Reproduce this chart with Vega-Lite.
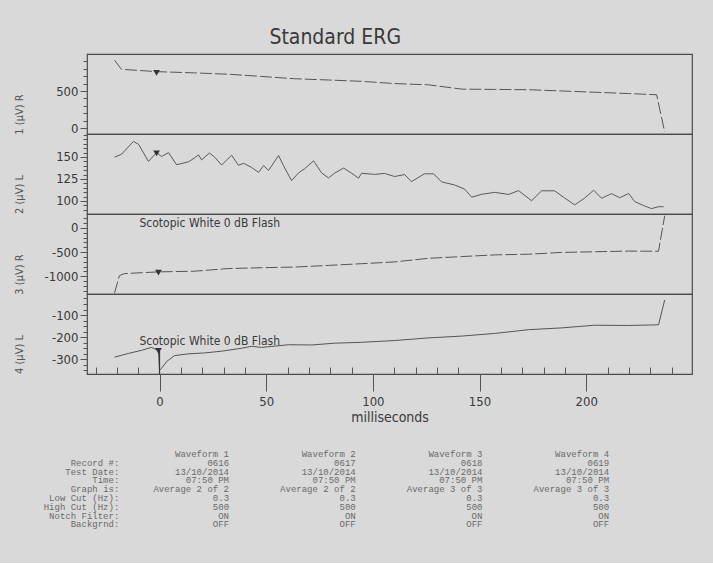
{
  "$schema": "https://vega.github.io/schema/vega-lite/v6.json",
  "background": "#d9d9d9",
  "padding": {"left": 12, "top": 27, "right": 20, "bottom": 19},
  "title": {"text": "Standard ERG", "fontSize": 21, "font": "'DejaVu Sans Condensed', 'Liberation Sans', sans-serif", "fontWeight": "normal", "color": "#3a3a3a", "anchor": "start", "dx": 257, "offset": 5},
  "config": {
    "view": {"stroke": "#4a4a4a", "strokeWidth": 1.2},
    "axis": {"domain": false, "grid": false, "labelOverlap": false, "tickColor": "#555", "labelColor": "#3a3a3a", "labelFont": "'DejaVu Sans Condensed', 'Liberation Sans', sans-serif", "labelFontSize": 13, "titleFont": "'DejaVu Sans Condensed', 'Liberation Sans', sans-serif", "titleFontSize": 11, "titleFontWeight": "normal", "titleColor": "#555"},
    "axisY": {"labelPadding": 2, "titleX": -68, "titleY": 60, "titleAlign": "center", "titleBaseline": "middle", "titleAngle": 270}
  },
  "spacing": 0,
  "bounds": "flush",
  "resolve": {"scale": {"x": "independent", "y": "independent"}},
  "datasets": {
    "trace": [
      {"p":1,"t":-21.1,"v":916},{"p":1,"t":-17.8,"v":793},{"p":1,"t":-1.4,"v":762},{"p":1,"t":16.4,"v":745},{"p":1,"t":32.3,"v":727},{"p":1,"t":47.8,"v":697},{"p":1,"t":63.3,"v":666},{"p":1,"t":79.2,"v":649},{"p":1,"t":94.7,"v":631},{"p":1,"t":110.2,"v":601},{"p":1,"t":126.1,"v":584},{"p":1,"t":141.6,"v":526},{"p":1,"t":157.1,"v":522},{"p":1,"t":173.0,"v":518},{"p":1,"t":188.5,"v":501},{"p":1,"t":203.9,"v":484},{"p":1,"t":219.9,"v":466},{"p":1,"t":233.0,"v":450},{"p":1,"t":236.8,"v":-51},
      {"p":2,"t":-21.1,"v":149.8},{"p":2,"t":-17.8,"v":153.1},{"p":2,"t":-12.2,"v":167.7},{"p":2,"t":-9.8,"v":164.3},{"p":2,"t":-5.2,"v":144.9},{"p":2,"t":-1.4,"v":155.0},{"p":2,"t":0.9,"v":150.5},{"p":2,"t":4.2,"v":154.9},{"p":2,"t":8.0,"v":141.2},{"p":2,"t":13.6,"v":144.5},{"p":2,"t":16.4,"v":149.0},{"p":2,"t":18.3,"v":152.4},{"p":2,"t":19.7,"v":146.7},{"p":2,"t":23.4,"v":154.5},{"p":2,"t":25.8,"v":149.9},{"p":2,"t":29.1,"v":140.8},{"p":2,"t":31.4,"v":146.4},{"p":2,"t":33.8,"v":152.0},{"p":2,"t":37.0,"v":140.6},{"p":2,"t":39.4,"v":142.8},{"p":2,"t":43.1,"v":138.2},{"p":2,"t":46.4,"v":132.5},{"p":2,"t":48.8,"v":140.3},{"p":2,"t":51.1,"v":134.7},{"p":2,"t":55.8,"v":151.6},{"p":2,"t":58.1,"v":140.2},{"p":2,"t":61.9,"v":123.1},{"p":2,"t":65.2,"v":132.0},{"p":2,"t":68.0,"v":136.6},{"p":2,"t":72.2,"v":145.6},{"p":2,"t":76.0,"v":131.9},{"p":2,"t":79.2,"v":126.1},{"p":2,"t":82.1,"v":131.7},{"p":2,"t":86.3,"v":137.4},{"p":2,"t":90.0,"v":131.6},{"p":2,"t":93.3,"v":125.9},{"p":2,"t":94.7,"v":131.5},{"p":2,"t":100.8,"v":130.2},{"p":2,"t":105.5,"v":131.3},{"p":2,"t":110.2,"v":127.8},{"p":2,"t":114.9,"v":130.0},{"p":2,"t":118.1,"v":121.9},{"p":2,"t":124.2,"v":130.9},{"p":2,"t":128.5,"v":130.8},{"p":2,"t":132.2,"v":121.7},{"p":2,"t":138.3,"v":118.2},{"p":2,"t":143.0,"v":113.5},{"p":2,"t":146.3,"v":104.3},{"p":2,"t":151.0,"v":107.6},{"p":2,"t":157.1,"v":109.8},{"p":2,"t":163.6,"v":107.4},{"p":2,"t":168.3,"v":111.8},{"p":2,"t":174.4,"v":100.3},{"p":2,"t":179.1,"v":111.6},{"p":2,"t":185.2,"v":111.5},{"p":2,"t":189.9,"v":103.4},{"p":2,"t":194.6,"v":95.5},{"p":2,"t":199.3,"v":103.3},{"p":2,"t":203.5,"v":112.3},{"p":2,"t":207.2,"v":103.1},{"p":2,"t":211.9,"v":108.3},{"p":2,"t":215.7,"v":103.7},{"p":2,"t":219.9,"v":108.5},{"p":2,"t":222.7,"v":99.4},{"p":2,"t":226.9,"v":94.8},{"p":2,"t":230.6,"v":91.3},{"p":2,"t":233.9,"v":93.5},{"p":2,"t":236.3,"v":93.4},
      {"p":3,"t":-21.1,"v":-1349},{"p":3,"t":-18.8,"v":-986},{"p":3,"t":-16.4,"v":-945},{"p":3,"t":-8.4,"v":-927},{"p":3,"t":-0.5,"v":-910},{"p":3,"t":16.4,"v":-896},{"p":3,"t":32.3,"v":-841},{"p":3,"t":47.8,"v":-824},{"p":3,"t":63.3,"v":-810},{"p":3,"t":79.2,"v":-776},{"p":3,"t":94.7,"v":-741},{"p":3,"t":110.2,"v":-704},{"p":3,"t":126.1,"v":-629},{"p":3,"t":141.6,"v":-594},{"p":3,"t":157.1,"v":-559},{"p":3,"t":173.0,"v":-545},{"p":3,"t":188.5,"v":-508},{"p":3,"t":203.9,"v":-494},{"p":3,"t":219.9,"v":-480},{"p":3,"t":233.9,"v":-484},{"p":3,"t":236.8,"v":250},
      {"p":4,"t":-21.1,"v":-290},{"p":4,"t":-14.5,"v":-273},{"p":4,"t":-8.4,"v":-259},{"p":4,"t":-3.8,"v":-246},{"p":4,"t":-0.5,"v":-260},{"p":4,"t":0.0,"v":-350},{"p":4,"t":0.9,"v":-341},{"p":4,"t":3.3,"v":-310},{"p":4,"t":7.0,"v":-283},{"p":4,"t":13.6,"v":-275},{"p":4,"t":21.1,"v":-271},{"p":4,"t":29.1,"v":-263},{"p":4,"t":38.4,"v":-250},{"p":4,"t":43.1,"v":-241},{"p":4,"t":47.8,"v":-246},{"p":4,"t":60.5,"v":-234},{"p":4,"t":71.3,"v":-235},{"p":4,"t":82.1,"v":-227},{"p":4,"t":94.7,"v":-223},{"p":4,"t":110.2,"v":-215},{"p":4,"t":126.1,"v":-203},{"p":4,"t":141.6,"v":-195},{"p":4,"t":157.1,"v":-183},{"p":4,"t":173.0,"v":-166},{"p":4,"t":188.5,"v":-158},{"p":4,"t":203.9,"v":-146},{"p":4,"t":219.9,"v":-147},{"p":4,"t":233.9,"v":-144},{"p":4,"t":236.8,"v":-32}
    ],
    "markers": [
      {"p":1,"t":-1.4,"v":745},{"p":2,"t":-1.4,"v":154},{"p":3,"t":-0.5,"v":-925},{"p":4,"t":-0.5,"v":-262}
    ],
    "stim": [{"p":4,"t":0,"v":-262,"v2":-366}],
    "notes": [
      {"p":3,"t":-9.4,"v":102,"text":"Scotopic  White 0 dB Flash"},
      {"p":4,"t":-9.4,"v":-217,"text":"Scotopic  White 0 dB Flash"}
    ],
    "table": [
      {"col":0,"row":1,"text":"Record #:"},{"col":0,"row":2,"text":"Test Date:"},{"col":0,"row":3,"text":"Time:"},{"col":0,"row":4,"text":"Graph is:"},{"col":0,"row":5,"text":"Low Cut (Hz):"},{"col":0,"row":6,"text":"High Cut (Hz):"},{"col":0,"row":7,"text":"Notch Filter:"},{"col":0,"row":8,"text":"Backgrnd:"},
      {"col":1,"row":0,"text":"Waveform  1"},{"col":1,"row":1,"text":"0616"},{"col":1,"row":2,"text":"13/10/2014"},{"col":1,"row":3,"text":"07:50 PM"},{"col":1,"row":4,"text":"Average 2 of 2"},{"col":1,"row":5,"text":"0.3"},{"col":1,"row":6,"text":"500"},{"col":1,"row":7,"text":"ON"},{"col":1,"row":8,"text":"OFF"},
      {"col":2,"row":0,"text":"Waveform  2"},{"col":2,"row":1,"text":"0617"},{"col":2,"row":2,"text":"13/10/2014"},{"col":2,"row":3,"text":"07:50 PM"},{"col":2,"row":4,"text":"Average 2 of 2"},{"col":2,"row":5,"text":"0.3"},{"col":2,"row":6,"text":"500"},{"col":2,"row":7,"text":"ON"},{"col":2,"row":8,"text":"OFF"},
      {"col":3,"row":0,"text":"Waveform  3"},{"col":3,"row":1,"text":"0618"},{"col":3,"row":2,"text":"13/10/2014"},{"col":3,"row":3,"text":"07:50 PM"},{"col":3,"row":4,"text":"Average 3 of 3"},{"col":3,"row":5,"text":"0.3"},{"col":3,"row":6,"text":"500"},{"col":3,"row":7,"text":"ON"},{"col":3,"row":8,"text":"OFF"},
      {"col":4,"row":0,"text":"Waveform  4"},{"col":4,"row":1,"text":"0619"},{"col":4,"row":2,"text":"13/10/2014"},{"col":4,"row":3,"text":"07:50 PM"},{"col":4,"row":4,"text":"Average 3 of 3"},{"col":4,"row":5,"text":"0.3"},{"col":4,"row":6,"text":"500"},{"col":4,"row":7,"text":"ON"},{"col":4,"row":8,"text":"OFF"}
    ]
  },
  "vconcat": [
    {
      "width": 605, "height": 80,
      "encoding": {
        "x": {"field": "t", "type": "quantitative", "scale": {"domain": [-34, 249.6], "nice": false, "zero": false}, "axis": null},
        "y": {"field": "v", "type": "quantitative", "scale": {"domain": [-80, 1000], "nice": false, "zero": false},
              "axis": {"title": "1 (µV) R", "labelOverlap": false, "values": [0,100,200,300,400,500,600,700,800,900], "labelExpr": "datum.value % 500 === 0 ? '' + datum.value : ''", "tickSize": {"condition": {"test": "datum.value % 500 === 0", "value": 7}, "value": 4}}}
      },
      "layer": [
        {"data": {"name": "trace"}, "transform": [{"filter": "datum.p === 1"}],
         "mark": {"type": "line", "color": "#555", "strokeWidth": 1, "strokeDash": [12, 3]}},
        {"data": {"name": "markers"}, "transform": [{"filter": "datum.p === 1"}],
         "mark": {"type": "point", "shape": "triangle-down", "filled": true, "color": "#333", "size": 45, "opacity": 1}}
      ]
    },
    {
      "width": 605, "height": 80,
      "encoding": {
        "x": {"field": "t", "type": "quantitative", "scale": {"domain": [-34, 249.6], "nice": false, "zero": false}, "axis": null},
        "y": {"field": "v", "type": "quantitative", "scale": {"domain": [85.2, 176.1], "nice": false, "zero": false},
              "axis": {"title": "2 (µV) L", "labelOverlap": false, "values": [90,95,100,105,110,115,120,125,130,135,140,145,150,155,160,165,170,175], "labelExpr": "indexof([100,125,150], datum.value) >= 0 ? '' + datum.value : ''", "tickSize": {"condition": {"test": "indexof([100,125,150], datum.value) >= 0", "value": 7}, "value": 4}}}
      },
      "layer": [
        {"data": {"name": "trace"}, "transform": [{"filter": "datum.p === 2"}],
         "mark": {"type": "line", "color": "#5a5a5a", "strokeWidth": 1}},
        {"data": {"name": "markers"}, "transform": [{"filter": "datum.p === 2"}],
         "mark": {"type": "point", "shape": "triangle-down", "filled": true, "color": "#333", "size": 45, "opacity": 1}}
      ]
    },
    {
      "width": 605, "height": 80,
      "encoding": {
        "x": {"field": "t", "type": "quantitative", "scale": {"domain": [-34, 249.6], "nice": false, "zero": false}, "axis": null},
        "y": {"field": "v", "type": "quantitative", "scale": {"domain": [-1367, 286], "nice": false, "zero": false},
              "axis": {"title": "3 (µV) R", "labelOverlap": false, "values": [-1300,-1200,-1100,-1000,-900,-800,-700,-600,-500,-400,-300,-200,-100,0,100,200], "labelExpr": "datum.value % 500 === 0 ? '' + datum.value : ''", "tickSize": {"condition": {"test": "datum.value % 500 === 0", "value": 7}, "value": 4}}}
      },
      "layer": [
        {"data": {"name": "trace"}, "transform": [{"filter": "datum.p === 3"}],
         "mark": {"type": "line", "color": "#555", "strokeWidth": 1, "strokeDash": [12, 3]}},
        {"data": {"name": "markers"}, "transform": [{"filter": "datum.p === 3"}],
         "mark": {"type": "point", "shape": "triangle-down", "filled": true, "color": "#333", "size": 45, "opacity": 1}},
        {"data": {"name": "notes"}, "transform": [{"filter": "datum.p === 3"}],
         "mark": {"type": "text", "align": "left", "baseline": "middle", "fontSize": 12, "font": "'DejaVu Sans Condensed', 'Liberation Sans', sans-serif", "color": "#3a3a3a"},
         "encoding": {"text": {"field": "text"}}}
      ]
    },
    {
      "width": 605, "height": 80,
      "encoding": {
        "x": {"field": "t", "type": "quantitative", "scale": {"domain": [-34, 249.6], "nice": false, "zero": false},
              "axis": {"title": "milliseconds", "labelOverlap": false, "labelFlush": false, "titleFontSize": 14, "titleColor": "#3a3a3a", "titlePadding": 2, "labelPadding": 4, "values": [-30,-20,-10,0,10,20,30,40,50,60,70,80,90,100,110,120,130,140,150,160,170,180,190,200,210,220,230,240], "labelExpr": "datum.value % 50 === 0 ? '' + datum.value : ''", "tickSize": {"condition": {"test": "datum.value % 50 === 0", "value": 17}, "value": -7}}},
        "y": {"field": "v", "type": "quantitative", "scale": {"domain": [-366, -5], "nice": false, "zero": false},
              "axis": {"title": "4 (µV) L", "labelOverlap": false, "values": [-350,-325,-300,-275,-250,-225,-200,-175,-150,-125,-100,-75,-50,-25], "labelExpr": "datum.value % 100 === 0 ? '' + datum.value : ''", "tickSize": {"condition": {"test": "datum.value % 100 === 0", "value": 7}, "value": 4}}}
      },
      "layer": [
        {"data": {"name": "trace"}, "transform": [{"filter": "datum.p === 4"}],
         "mark": {"type": "line", "color": "#555", "strokeWidth": 1}},
        {"data": {"name": "stim"},
         "mark": {"type": "rule", "color": "#333", "strokeWidth": 1.2},
         "encoding": {"y2": {"field": "v2"}}},
        {"data": {"name": "markers"}, "transform": [{"filter": "datum.p === 4"}],
         "mark": {"type": "point", "shape": "triangle-down", "filled": true, "color": "#333", "size": 45, "opacity": 1}},
        {"data": {"name": "notes"}, "transform": [{"filter": "datum.p === 4"}],
         "mark": {"type": "text", "align": "left", "baseline": "middle", "fontSize": 12, "font": "'DejaVu Sans Condensed', 'Liberation Sans', sans-serif", "color": "#3a3a3a"},
         "encoding": {"text": {"field": "text"}}}
      ]
    },
    {
      "width": 605, "height": 170,
      "view": {"stroke": null},
      "data": {"name": "table"},
      "encoding": {
        "x": {"field": "col", "type": "quantitative", "scale": {"domain": [-0.121, 4.654], "nice": false, "zero": false}, "axis": null},
        "y": {"field": "row", "type": "quantitative", "scale": {"domain": [-9.09, 10.23], "nice": false, "zero": false, "reverse": true}, "axis": null},
        "text": {"field": "text"}
      },
      "layer": [
        {"transform": [{"filter": "datum.col === 0"}],
         "mark": {"type": "text", "align": "right", "baseline": "middle", "dx": 17, "font": "'Liberation Mono', 'DejaVu Sans Mono', monospace", "fontSize": 9, "color": "#6a6a6a"}},
        {"transform": [{"filter": "datum.col > 0"}],
         "mark": {"type": "text", "align": "right", "baseline": "middle", "font": "'Liberation Mono', 'DejaVu Sans Mono', monospace", "fontSize": 9, "color": "#6a6a6a"}}
      ]
    }
  ]
}
